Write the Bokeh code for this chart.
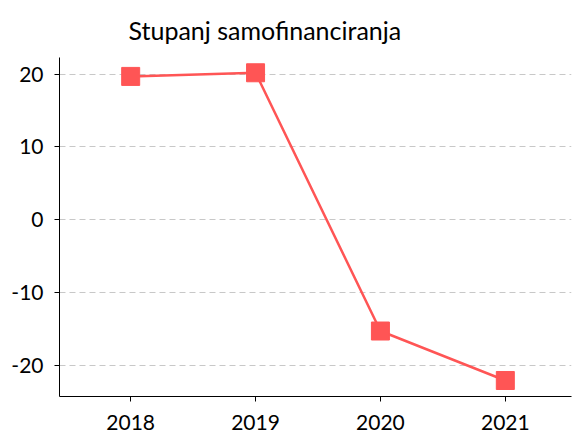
from bokeh.plotting import figure
from bokeh.models import Range1d, FixedTicker
from bokeh.embed import file_html
from bokeh.resources import INLINE

years = [2018, 2019, 2020, 2021]
values = [19.7, 20.2, -15.3, -22.1]
y_ticks = [-20, -10, 0, 10, 20]
y_tick_labels = ["-20", "-10", "0", "10", "20"]
title_text = "Stupanj samofinanciranja"

FONT = "Lato"
RED = "#FF5555"

p = figure(width=573, height=439, output_backend="svg", toolbar_location=None,
           x_range=Range1d(2017.43, 2021.53), y_range=Range1d(-24.3, 22.3),
           min_border_left=59, min_border_right=2, min_border_top=57, min_border_bottom=43)

p.title.text = title_text
p.title.text_font = FONT
p.title.text_font_size = "25px"
p.title.text_font_style = "normal"
p.title.align = "left"
p.title.offset = 69
p.title.standoff = 25
p.title.text_color = "#000000"

p.outline_line_color = None
p.line(years, values, line_color=RED, line_width=2.5)
p.scatter(years, values, marker="square", size=18, fill_color=RED, line_color=RED)

p.xaxis.ticker = FixedTicker(ticks=years)
p.yaxis.ticker = FixedTicker(ticks=y_ticks)
p.yaxis.major_label_overrides = {t: s for t, s in zip(y_ticks, y_tick_labels)}
for ax in (p.xaxis, p.yaxis):
    ax.axis_line_color = "black"
    ax.axis_line_width = 1
    ax.major_tick_line_color = "black"
    ax.major_tick_out = 5
    ax.major_tick_in = 0
    ax.minor_tick_line_color = None
    ax.major_label_text_font = FONT
    ax.major_label_text_font_size = "21px"
    ax.major_label_text_color = "black"
p.xaxis.major_label_standoff = 13
p.yaxis.major_label_standoff = 11

p.xgrid.grid_line_color = None
p.ygrid.grid_line_color = "#c8c8c8"
p.ygrid.grid_line_dash = "6 4"
p.ygrid.grid_line_width = 1

open("out.html", "w").write(file_html(p, INLINE))
